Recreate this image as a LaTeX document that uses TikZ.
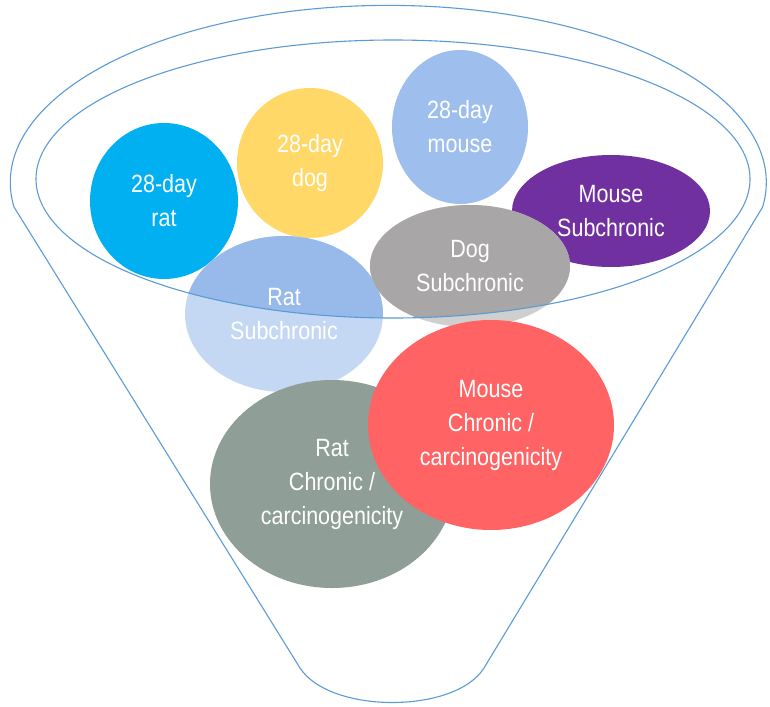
\documentclass[tikz,border=0pt]{standalone}
\usepackage{fontspec}
\newfontfamily\bubblefont{Liberation Sans}[FakeStretch=0.86]
\usetikzlibrary{shapes.geometric}

\definecolor{rimblue}{RGB}{91,155,213}
\definecolor{ratday}{RGB}{0,176,240}
\definecolor{dogday}{RGB}{255,216,104}
\definecolor{mouseday}{RGB}{158,190,238}
\definecolor{mousesub}{RGB}{112,48,160}
\definecolor{dogsubin}{RGB}{168,166,166}
\definecolor{dogsubout}{RGB}{208,207,207}
\definecolor{ratsubin}{RGB}{152,186,234}
\definecolor{ratsubout}{RGB}{196,216,244}
\definecolor{ratchron}{RGB}{143,158,150}
\definecolor{mousechron}{RGB}{255,99,99}

\begin{document}
\begin{tikzpicture}[x=1pt,y=-1pt,
  bubble/.style={ellipse, inner sep=0pt, outer sep=0pt, text=white, align=center,
    font=\bubblefont\fontsize{25}{34}\selectfont},
  funnelline/.style={draw=rimblue, line width=1.1pt},
  % part of a bubble lying inside the rim of the funnel is drawn darker
  inrim/.style={path picture={\fill[#1] (rimc) ellipse [x radius=357, y radius=139];}}]
\useasboundingbox (0,0) rectangle (770,706);

% funnel: outer lip, sloping walls and spout
\coordinate (rimc) at (393,179);
\coordinate (lipL) at (14,207);
\coordinate (spoutR) at (484,668);
\coordinate (spoutL) at (300,668);
\draw[funnelline] (lipL) arc[start angle=172, end angle=368, x radius=378, y radius=177]
  -- (spoutR) .. controls (455,714) and (330,714) .. (spoutL) -- cycle;

% studies inside the funnel
\node[bubble, fill=ratday, minimum width=148, minimum height=156] (rat28) at (164,201) {28-day\\rat};
\node[bubble, fill=dogday, minimum width=146, minimum height=150] (dog28) at (310,163) {28-day\\dog};
\node[bubble, fill=mouseday, minimum width=136, minimum height=154] (mouse28) at (460,127) {28-day\\mouse};
\node[bubble, fill=mousesub, minimum width=198, minimum height=112] (mousesub) at (611,211) {Mouse\\Subchronic};
\node[bubble, fill=ratsubout, inrim=ratsubin, minimum width=198, minimum height=156] (ratsub) at (284,314) {Rat\\Subchronic};
\node[bubble, fill=dogsubout, inrim=dogsubin, minimum width=200, minimum height=122] (dogsub) at (470,266) {Dog\\Subchronic};

% inner rim of the funnel
\draw[funnelline] (rimc) ellipse [x radius=357, y radius=139];

% chronic studies at the bottom
\node[bubble, fill=ratchron, minimum width=244, minimum height=208] (ratchr) at (332,484) {Rat\\Chronic /\\carcinogenicity};
\node[bubble, fill=mousechron, minimum width=246, minimum height=210] (mousechr) at (491,425) {Mouse\\Chronic /\\carcinogenicity};
\end{tikzpicture}
\end{document}
